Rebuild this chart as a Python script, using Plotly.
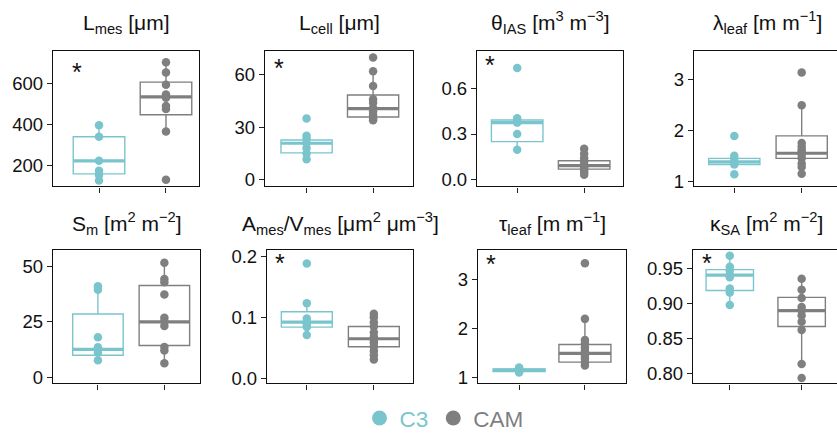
import plotly.graph_objects as go

TEAL = "#7AC5CD"
GREY = "#7F7F7F"
FONT = "Liberation Sans, Arial, Helvetica, sans-serif"

groups = ["C3", "CAM"]

# ---- data ----
# box stats: [q1, median, q3, lower whisker, upper whisker]
lmes_c3 = [396, 341, 224, 176, 155, 129]
lmes_cam = [702, 652, 592, 545, 530, 490, 475, 366, 133]
lmes_c3_box = [161, 224, 341, 129, 396]
lmes_cam_box = [447, 534, 605, 366, 702]

lcell_c3 = [35, 25.1, 23.5, 20.8, 18, 15, 11.7]
lcell_cam = [69.8, 62, 53.6, 46, 44, 41, 39, 37, 35, 34]
lcell_c3_box = [15.3, 20.8, 22.7, 11.7, 25.1]
lcell_cam_box = [35.8, 40.6, 48.4, 34, 62]

theta_c3 = [0.735, 0.403, 0.385, 0.375, 0.30, 0.197]
theta_cam = [0.203, 0.17, 0.14, 0.12, 0.10, 0.09, 0.085, 0.075, 0.06, 0.045, 0.032]
theta_c3_box = [0.25, 0.375, 0.392, 0.197, 0.403]
theta_cam_box = [0.069, 0.092, 0.124, 0.032, 0.203]

lambda_c3 = [1.89, 1.50, 1.44, 1.38, 1.33, 1.14]
lambda_cam = [3.13, 2.49, 1.75, 1.68, 1.62, 1.58, 1.52, 1.45, 1.35, 1.28, 1.15]
lambda_c3_box = [1.33, 1.38, 1.45, 1.30, 1.50]
lambda_cam_box = [1.45, 1.55, 1.89, 1.15, 2.49]

sm_c3 = [41, 39.5, 18, 13.5, 12.5, 11, 7.7]
sm_cam = [51.6, 44.3, 42.8, 37.3, 26.8, 25.3, 23.1, 13.6, 12.1, 6.3]
sm_c3_box = [9.9, 12.6, 28.5, 7.7, 41]
sm_cam_box = [14.3, 25.0, 41.4, 6.3, 51.6]

av_c3 = [0.188, 0.123, 0.098, 0.092, 0.088, 0.084, 0.071]
av_cam = [0.106, 0.10, 0.092, 0.085, 0.075, 0.068, 0.063, 0.058, 0.052, 0.045, 0.038, 0.031]
av_c3_box = [0.084, 0.092, 0.109, 0.071, 0.123]
av_cam_box = [0.052, 0.065, 0.085, 0.031, 0.106]

tau_c3 = [1.21, 1.19, 1.17, 1.16, 1.15, 1.13, 1.11]
tau_cam = [3.33, 2.20, 1.77, 1.70, 1.62, 1.55, 1.50, 1.45, 1.40, 1.32, 1.25]
tau_c3_box = [1.13, 1.16, 1.18, 1.11, 1.21]
tau_cam_box = [1.32, 1.50, 1.68, 1.25, 2.20]

kappa_c3 = [0.969, 0.953, 0.948, 0.942, 0.938, 0.922, 0.916, 0.898]
kappa_cam = [0.936, 0.92, 0.908, 0.895, 0.890, 0.883, 0.874, 0.862, 0.813, 0.793]
kappa_c3_box = [0.919, 0.941, 0.949, 0.898, 0.969]
kappa_cam_box = [0.867, 0.890, 0.909, 0.813, 0.936]

titles = [
    "L<sub>mes</sub> [μm]",
    "L<sub>cell</sub> [μm]",
    "θ<sub>IAS</sub> [m<sup>3</sup> m<sup>−3</sup>]",
    "λ<sub>leaf</sub> [m m<sup>−1</sup>]",
    "S<sub>m</sub> [m<sup>2</sup> m<sup>−2</sup>]",
    "A<sub>mes</sub>/V<sub>mes</sub> [μm<sup>2</sup> μm<sup>−3</sup>]",
    "τ<sub>leaf</sub> [m m<sup>−1</sup>]",
    "κ<sub>SA</sub> [m<sup>2</sup> m<sup>−2</sup>]",
]
yticks = [
    [200, 400, 600], [0, 30, 60], [0.0, 0.3, 0.6], [1, 2, 3],
    [0, 25, 50], [0.0, 0.1, 0.2], [1, 2, 3], [0.80, 0.85, 0.90, 0.95],
]
ytickfmt = ["d", "d", ".1f", "d", "d", ".1f", "d", ".2f"]
significant = [True, True, True, False, False, True, True, True]

# ---- layout geometry ----
W, H = 837, 440
panels = [
    dict(c3=lmes_c3, cam=lmes_cam, c3b=lmes_c3_box, camb=lmes_cam_box,
         px=(53, 199), py=(48, 188), xr=(-0.687, 1.493), yr=(100, 758), bw=0.77, star=(0.162, 0.859)),
    dict(c3=lcell_c3, cam=lcell_cam, c3b=lcell_c3_box, camb=lcell_cam_box,
         px=(265, 413), py=(48, 188), xr=(-0.625, 1.60), yr=(-3.9, 73.8), bw=0.77, star=(0.095, 0.89)),
    dict(c3=theta_c3, cam=theta_cam, c3b=theta_c3_box, camb=theta_cam_box,
         px=(477, 623), py=(48, 188), xr=(-0.60, 1.58), yr=(-0.045, 0.849), bw=0.77, star=(0.089, 0.907)),
    dict(c3=lambda_c3, cam=lambda_cam, c3b=lambda_c3_box, camb=lambda_cam_box,
         px=(694, 837), py=(48, 188), xr=(-0.598, 1.524), yr=(0.9, 3.56), bw=0.76, star=None),
    dict(c3=sm_c3, cam=sm_cam, c3b=sm_c3_box, camb=sm_cam_box,
         px=(53, 200), py=(253, 391), xr=(-0.676, 1.536), yr=(-2.8, 57.6), bw=0.76, star=None),
    dict(c3=av_c3, cam=av_cam, c3b=av_c3_box, camb=av_cam_box,
         px=(267, 413), py=(253, 391), xr=(-0.594, 1.584), yr=(-0.008, 0.2107), bw=0.76, star=(0.086, 0.911)),
    dict(c3=tau_c3, cam=tau_cam, c3b=tau_c3_box, camb=tau_cam_box,
         px=(478, 626), py=(253, 391), xr=(-0.624, 1.624), yr=(0.887, 3.61), bw=0.79, star=(0.086, 0.904)),
    dict(c3=kappa_c3, cam=kappa_cam, c3b=kappa_c3_box, camb=kappa_cam_box,
         px=(693, 837), py=(253, 391), xr=(-0.512, 1.492), yr=(0.785, 0.978), bw=0.66, star=(0.097, 0.911)),
]
title_baseline = {48: 26, 253: 233}

fig = go.Figure()
annotations = []
layout_axes = {}

for i, p in enumerate(panels, start=1):
    xa = "x" if i == 1 else f"x{i}"
    ya = "y" if i == 1 else f"y{i}"
    xname = "xaxis" if i == 1 else f"xaxis{i}"
    yname = "yaxis" if i == 1 else f"yaxis{i}"
    bw = p["bw"]
    for pos, (pts, st, col) in enumerate([(p["c3"], p["c3b"], TEAL), (p["cam"], p["camb"], GREY)]):
        q1, med, q3, lf, uf = st
        fig.add_trace(go.Box(
            x=[pos], q1=[q1], median=[med], q3=[q3], lowerfence=[lf], upperfence=[uf],
            width=bw, fillcolor="white", line=dict(color=col, width=1.4),
            boxpoints=False, whiskerwidth=0, showlegend=False, hoverinfo="skip",
            xaxis=xa, yaxis=ya))
        fig.add_trace(go.Scatter(
            x=[pos - bw / 2, pos + bw / 2], y=[med, med], mode="lines",
            line=dict(color=col, width=3.2), showlegend=False, hoverinfo="skip",
            xaxis=xa, yaxis=ya))
        fig.add_trace(go.Scatter(
            x=[pos] * len(pts), y=pts, mode="markers",
            marker=dict(color=col, size=8.5, line=dict(width=0)),
            showlegend=False, hoverinfo="skip", xaxis=xa, yaxis=ya))

    cut = p["px"][1] >= W
    layout_axes[xname] = dict(
        domain=[p["px"][0] / W, min(p["px"][1] / W, 1.0)], range=list(p["xr"]),
        anchor=ya, tickvals=[0, 1], showticklabels=False, ticks="outside", ticklen=5,
        tickwidth=1.1, tickcolor="#222", showline=True, linecolor="#111", linewidth=1.4,
        mirror=True, showgrid=False, zeroline=False, fixedrange=True)
    layout_axes[yname] = dict(
        domain=[1 - p["py"][1] / H, 1 - p["py"][0] / H], range=list(p["yr"]),
        anchor=xa, tickvals=yticks[i - 1], tickformat=ytickfmt[i - 1],
        ticks="outside", ticklen=5, tickwidth=1.1, tickcolor="#222",
        showline=True, linecolor="#111", linewidth=1.4, mirror=(not cut),
        showgrid=False, zeroline=False, fixedrange=True,
        tickfont=dict(family=FONT, size=18.5, color="#111"))

    # panel title
    right = p["px"][1] if not cut else p["px"][0] + 147
    base = title_baseline[p["py"][0]]
    annotations.append(dict(
        text=titles[i - 1], xref="paper", yref="paper",
        x=((p["px"][0] + right) / 2) / W,
        y=1 - (base + 10) / H, xanchor="center", yanchor="bottom",
        showarrow=False, font=dict(family=FONT, size=21, color="#111")))
    # significance star
    if significant[i - 1] and p["star"] is not None:
        annotations.append(dict(
            text="*", xref=f"{xa} domain", yref=f"{ya} domain",
            x=p["star"][0], y=p["star"][1], xanchor="center", yanchor="middle",
            yshift=-2, showarrow=False, font=dict(family=FONT, size=25, color="#111")))

# legend entries
for g, col in zip(groups, [TEAL, GREY]):
    fig.add_trace(go.Scatter(
        x=[None], y=[None], mode="markers", marker=dict(color=col, size=15),
        name=f'<span style="color:{col}">{g}</span>', showlegend=True,
        xaxis="x", yaxis="y"))

fig.update_layout(
    width=W, height=H, margin=dict(l=0, r=0, t=0, b=0),
    paper_bgcolor="white", plot_bgcolor="white",
    font=dict(family=FONT, color="#111"),
    showlegend=True,
    legend=dict(orientation="h", x=444 / W, xanchor="center", y=1 - 427 / H, yanchor="middle",
                font=dict(family=FONT, size=22.5), bgcolor="rgba(0,0,0,0)", itemwidth=30),
    annotations=annotations,
    boxmode="overlay",
    **layout_axes,
)

fig.write_html("out.html", config={"displayModeBar": False},
               post_script="document.body.style.margin='0px';")
